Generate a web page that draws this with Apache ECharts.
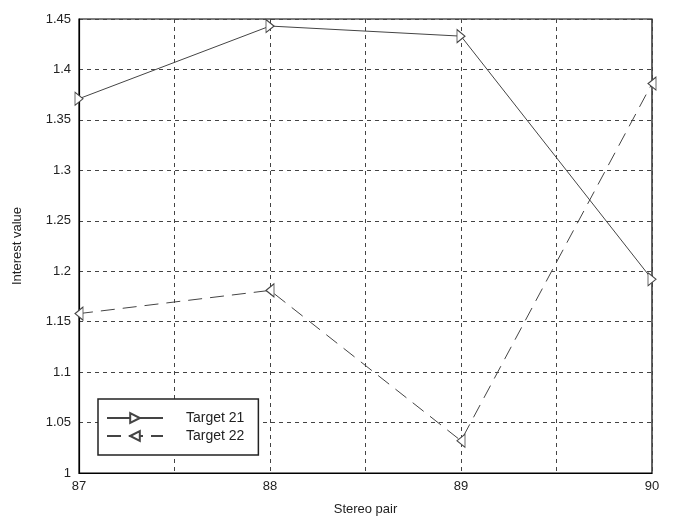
<!DOCTYPE html>
<html>
<head>
<meta charset="utf-8">
<script src="https://cdn.jsdelivr.net/npm/echarts@6/dist/echarts.min.js"></script>
<style>
  html, body { margin: 0; padding: 0; background: #fff; }
  #chart { width: 674px; height: 522px; }
</style>
</head>
<body>
<div id="chart"></div>
<script>
const stereoPairs = [87, 88, 89, 90];
const target21 = [1.371, 1.443, 1.433, 1.192];
const target22 = [1.158, 1.181, 1.032, 1.386];
const yTicks = [1, 1.05, 1.1, 1.15, 1.2, 1.25, 1.3, 1.35, 1.4, 1.45];

const chart = echarts.init(document.getElementById("chart"));
const lineColor = "#444";
const font = "Liberation Sans";

function pairs(values) {
  return stereoPairs.map((x, i) => [x, values[i]]);
}

chart.setOption({
  animation: false,
  textStyle: { fontFamily: font },
  grid: {
    left: 79, right: 22, top: 19, bottom: 49,
    show: true, borderColor: "#000", borderWidth: 1.2,
  },
  legend: {
    orient: "vertical",
    left: 98, top: 399,
    itemWidth: 56, itemHeight: 12, itemGap: 4,
    padding: [12, 14, 12, 8],
    borderColor: "#222", borderWidth: 1.5,
    backgroundColor: "#fff",
    textStyle: { fontSize: 14, color: "#222", fontFamily: font, padding: [0, 0, 0, 18] },
    data: ["Target 21", "Target 22"],
  },
  xAxis: {
    type: "value",
    min: 87, max: 90, interval: 0.5,
    name: "Stereo pair",
    nameLocation: "middle",
    nameGap: 30,
    nameTextStyle: { fontSize: 13, color: "#222" },
    axisLine: { lineStyle: { color: "#000", width: 1.2 } },
    axisTick: { show: false },
    axisLabel: {
      fontSize: 13, color: "#222", margin: 7,
      formatter: (v) => (Number.isInteger(v) ? String(v) : ""),
    },
    splitLine: { lineStyle: { color: "#444", type: [4, 4], width: 1 } },
  },
  yAxis: {
    type: "value",
    min: 1, max: 1.45, interval: 0.05,
    name: "Interest value",
    nameLocation: "middle",
    nameGap: 55,
    nameTextStyle: { fontSize: 13, color: "#222" },
    axisLine: { lineStyle: { color: "#000", width: 1.2 } },
    axisTick: { show: false },
    axisLabel: {
      fontSize: 13, color: "#222", margin: 8,
      formatter: (v) => {
        const t = yTicks.find((y) => Math.abs(y - v) < 1e-6);
        return t === undefined ? "" : String(t);
      },
    },
    splitLine: { lineStyle: { color: "#444", type: [4, 4], width: 1 } },
  },
  series: [
    {
      name: "Target 21",
      type: "line",
      data: pairs(target21),
      symbol: "triangle",
      symbolSize: [13, 8],
      symbolRotate: -90,
      lineStyle: { color: lineColor, width: 1 },
      itemStyle: { color: "#fff", borderColor: lineColor, borderWidth: 1 },
      z: 3,
    },
    {
      name: "Target 22",
      type: "line",
      data: pairs(target22),
      symbol: "triangle",
      symbolSize: [13, 8],
      symbolRotate: 90,
      lineStyle: { color: lineColor, width: 1, type: [14, 8] },
      itemStyle: { color: "#fff", borderColor: lineColor, borderWidth: 1 },
      z: 3,
    },
  ],
});
</script>
</body>
</html>
